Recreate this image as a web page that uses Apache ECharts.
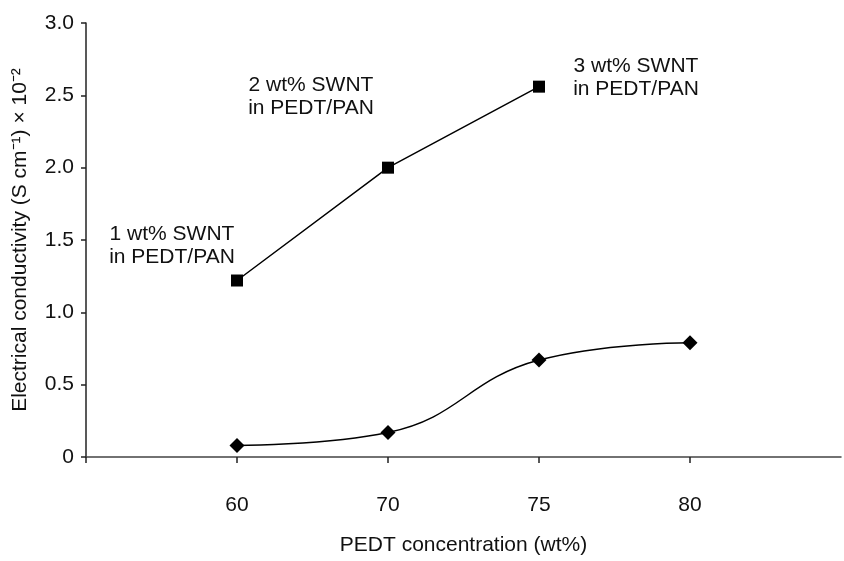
<!DOCTYPE html>
<html>
<head>
<meta charset="utf-8">
<script src="https://cdn.jsdelivr.net/npm/echarts@6/dist/echarts.min.js"></script>
<style>
html,body{margin:0;padding:0;background:#fff;overflow:hidden;}
#chart{width:844px;height:561px;}
</style>
</head>
<body>
<div id="chart"></div>
<script>
// x categories (PEDT concentration, wt%); blank slots pad the axis ends
const categories = ['', '60', '70', '75', '80', ''];
// SWNT-loaded series (squares)
const swntValues = [null, 1.22, 2.00, 2.56, null, null];
// PEDT/PAN series (diamonds)
const pedtValues = [null, 0.08, 0.17, 0.67, 0.79, null];
// y-axis tick settings
const yMin = 0, yMax = 3.0, yStep = 0.5;
// annotation texts
const notes = [
  {text: '1 wt% SWNT\nin PEDT/PAN', cat: '60'},
  {text: '2 wt% SWNT\nin PEDT/PAN', cat: '70'},
  {text: '3 wt% SWNT\nin PEDT/PAN', cat: '75'}
];

const FONT = 'Liberation Sans, Arial, Helvetica, sans-serif';
const chart = echarts.init(document.getElementById('chart'), null, {renderer: 'canvas'});

const option = {
  backgroundColor: '#fff',
  animation: false,
  grid: {left: 86, top: 23, bottom: 99, right: 0, containLabel: false},
  xAxis: {
    type: 'category',
    data: categories,
    boundaryGap: false,
    name: 'PEDT concentration (wt%)',
    nameLocation: 'middle',
    nameGap: 78,
    nameTextStyle: {fontFamily: FONT, fontSize: 21, color: '#111'},
    axisLine: {lineStyle: {color: '#444', width: 1.5}},
    axisTick: {show: true, length: 6, interval: (idx) => idx < categories.length - 1,
      lineStyle: {color: '#222', width: 1.5}},
    axisLabel: {margin: 38, fontFamily: FONT, fontSize: 21, color: '#111', interval: 0},
    splitLine: {show: false}
  },
  yAxis: {
    type: 'value',
    min: yMin, max: yMax, interval: yStep,
    name: 'Electrical conductivity (S cm\u207B\u00B9) \u00D7 10\u207B\u00B2',
    nameLocation: 'middle',
    nameGap: 55,
    nameTextStyle: {fontFamily: FONT, fontSize: 21, color: '#111'},
    axisLine: {show: true, lineStyle: {color: '#222', width: 1.5}},
    axisTick: {show: true, length: 5, lineStyle: {color: '#222', width: 1.5}},
    axisLabel: {margin: 12, fontFamily: FONT, fontSize: 21, color: '#111',
      formatter: v => v === 0 ? '0' : v.toFixed(1)},
    splitLine: {show: false}
  },
  series: [
    {
      type: 'line',
      data: swntValues,
      symbol: 'rect',
      symbolSize: 12,
      showAllSymbol: true,
      connectNulls: false,
      lineStyle: {color: '#000', width: 1.5},
      itemStyle: {color: '#000'}
    },
    {
      type: 'line',
      data: pedtValues,
      symbol: 'diamond',
      symbolSize: 15,
      smooth: 0.45,
      lineStyle: {color: '#000', width: 1.5},
      itemStyle: {color: '#000'}
    }
  ],
  graphic: []
};

chart.setOption(option);

// place annotations relative to data points via the chart's own scales
const noteOffsets = [[-65, -35], [-77, -71], [97, -9]];
const noteValues = [swntValues[1], swntValues[2], swntValues[3]];
const graphics = notes.map((n, i) => {
  const p = chart.convertToPixel({gridIndex: 0}, [n.cat, noteValues[i]]);
  return {
    type: 'text',
    x: p[0] + noteOffsets[i][0],
    y: p[1] + noteOffsets[i][1],
    style: {
      text: n.text,
      font: '21px ' + FONT,
      fill: '#111',
      align: 'center',
      verticalAlign: 'middle',
      lineHeight: 23
    }
  };
});
chart.setOption({graphic: graphics});
</script>
</body>
</html>
